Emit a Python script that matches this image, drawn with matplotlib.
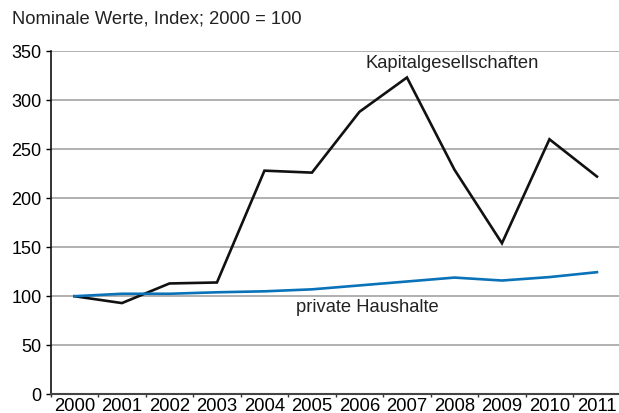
import matplotlib
matplotlib.use("Agg")
import matplotlib.pyplot as plt

years = ["2000", "2001", "2002", "2003", "2004", "2005", "2006", "2007", "2008", "2009", "2010", "2011"]
kapital = [100, 93, 113, 114, 228, 226, 288, 323, 229, 154, 260, 222]
haushalte = [100, 102.5, 102.5, 104, 105, 107, 111, 115, 119, 116, 119.5, 124.5]
yticks = [0, 50, 100, 150, 200, 250, 300, 350]

plt.rcParams['font.family'] = ['Liberation Sans', 'DejaVu Sans']

fig = plt.figure(figsize=(6.19, 4.13), dpi=100)
W, H = 619, 413
ax = fig.add_axes([50.7 / W, (H - 394.3) / H, 570 / W, (394.3 - 51) / H])

x = list(range(len(years)))
ax.plot(x, kapital, color='#111111', lw=1.9, solid_joinstyle='miter', zorder=3)
ax.plot(x, haushalte, color='#0a72b8', lw=1.9, zorder=3)

ax.set_xlim(-0.5, len(years) - 0.5)
ax.set_ylim(0, 350)
ax.set_yticks(yticks)
ax.set_yticklabels([str(v) for v in yticks], fontsize=13)
ax.yaxis.grid(True, color='#aaaaaa', lw=1.3)
ax.set_axisbelow(True)

ax.set_xticks([i + 0.5 for i in range(-1, len(years))], minor=False)
ax.set_xticklabels([''] * (len(years) + 1))
ax.set_xticks(x, minor=True)
ax.set_xticklabels(years, minor=True, fontsize=13.3)
ax.tick_params(axis='x', which='minor', length=0, pad=3)
ax.tick_params(axis='x', which='major', length=2, width=1, color='#333333', direction='out')
ax.tick_params(axis='y', length=3.5, width=1, direction='out', pad=3)

for s in ['top', 'right']:
    ax.spines[s].set_visible(False)
ax.spines['left'].set_color('#111111')
ax.spines['left'].set_linewidth(1.2)
ax.spines['bottom'].set_color('#444444')
ax.spines['bottom'].set_linewidth(1.5)

fig.text(12 / W, 1 - 19 / H, "Nominale Werte, Index; 2000 = 100", fontsize=13.2,
         ha='left', va='center', color='#222222')
ax.text(7.96, 337, "Kapitalgesellschaften", fontsize=13.2, ha='center', va='center', color='#222222')
ax.text(6.17, 88, "private Haushalte", fontsize=13.2, ha='center', va='center', color='#222222')

fig.savefig("out.png", dpi=100)
